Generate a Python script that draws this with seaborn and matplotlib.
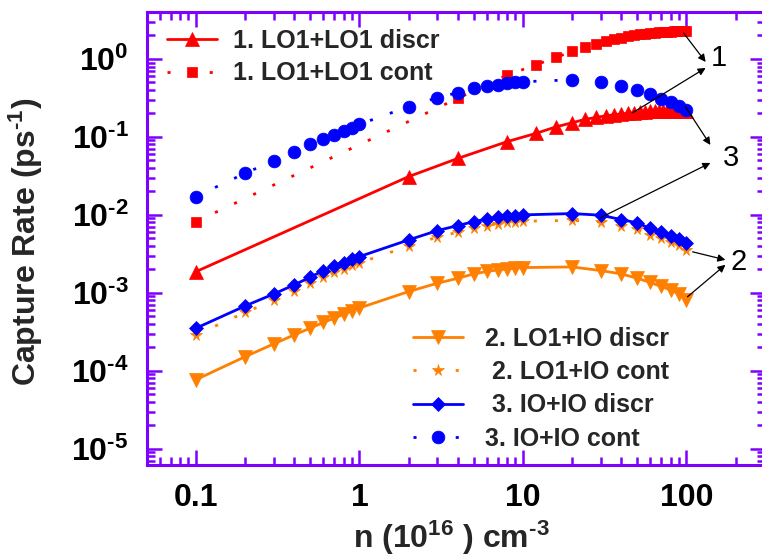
import numpy as np
import pandas as pd
import matplotlib
matplotlib.use("Agg")
import matplotlib.pyplot as plt
import seaborn as sns
from matplotlib.ticker import FixedLocator, LogLocator, FuncFormatter, NullFormatter

# ---- data: electron density n (1e16 cm^-3) and capture rates (ps^-1) ----
n_grid = [0.1, 0.2, 0.3, 0.4, 0.5, 0.6, 0.7, 0.8, 0.9, 1,
          2, 3, 4, 5, 6, 7, 8, 9, 10,
          20, 30, 40, 50, 60, 70, 80, 90, 100]

n_lo1_discr = [0.1, 2, 4, 8, 12, 16, 20, 24, 28, 32, 36, 40, 44, 48, 52,
               56, 60, 64, 68, 72, 76, 80, 84, 88, 92, 96, 100]
n_lo1_cont = [0.1, 4, 8, 12, 16, 20, 24, 28, 32, 36, 40, 44, 48, 52,
              56, 60, 64, 68, 72, 76, 80, 84, 88, 92, 96, 100]

rate_lo1_discr = [1.87e-3, 0.031, 0.053, 0.087, 0.111, 0.135, 0.152, 0.168, 0.178,
                  0.186, 0.192, 0.197, 0.201, 0.205, 0.208, 0.211, 0.213, 0.215,
                  0.216, 0.217, 0.218, 0.218, 0.218, 0.217, 0.216, 0.214, 0.212]
rate_lo1_cont = [8.2e-3, 0.313, 0.62, 0.84, 1.05, 1.25, 1.42, 1.57, 1.70, 1.80,
                 1.88, 1.95, 2.01, 2.06, 2.10, 2.14, 2.17, 2.19, 2.21, 2.23,
                 2.24, 2.25, 2.26, 2.26, 2.26, 2.26]

rate_lo1io_discr = [7.7e-5, 1.52e-4, 2.22e-4, 2.9e-4, 3.52e-4, 4.17e-4, 4.73e-4, 5.3e-4,
                    5.9e-4, 6.4e-4, 1.04e-3, 1.33e-3, 1.54e-3, 1.75e-3, 1.88e-3,
                    1.97e-3, 2.03e-3, 2.07e-3, 2.11e-3, 2.15e-3, 1.93e-3, 1.75e-3,
                    1.54e-3, 1.36e-3, 1.21e-3, 1.09e-3, 9.7e-4, 8.1e-4]
rate_lo1io_cont = [2.9e-4, 5.6e-4, 8.1e-4, 1.06e-3, 1.32e-3, 1.6e-3, 1.84e-3, 2.04e-3,
                   2.25e-3, 2.43e-3, 3.97e-3, 5.2e-3, 6.0e-3, 6.8e-3, 7.3e-3, 7.7e-3,
                   8.0e-3, 8.2e-3, 8.3e-3, 8.5e-3, 8.1e-3, 7.2e-3, 6.5e-3, 5.6e-3,
                   5.0e-3, 4.5e-3, 4.05e-3, 3.55e-3]

rate_io_discr = [3.52e-4, 6.8e-4, 9.7e-4, 1.27e-3, 1.59e-3, 1.93e-3, 2.22e-3, 2.45e-3,
                 2.7e-3, 2.92e-3, 4.78e-3, 6.3e-3, 7.3e-3, 8.2e-3, 8.8e-3, 9.3e-3,
                 9.7e-3, 9.8e-3, 0.0100, 0.0104, 0.0099, 8.7e-3, 7.9e-3, 6.7e-3,
                 6.0e-3, 5.4e-3, 4.9e-3, 4.3e-3]
rate_io_cont = [0.0172, 0.0342, 0.0498, 0.0649, 0.0805, 0.0933, 0.106, 0.119, 0.132,
                0.145, 0.245, 0.319, 0.37, 0.42, 0.45, 0.47, 0.49, 0.50, 0.51,
                0.54, 0.50, 0.45, 0.40, 0.35, 0.307, 0.28, 0.248, 0.22]

labels = ["1. LO1+LO1 discr", "1. LO1+LO1 cont",
          "2. LO1+IO discr", " 2. LO1+IO cont",
          " 3. IO+IO discr", "3. IO+IO cont"]

RED, ORANGE, BLUE = "#FF0000", "#FF8000", "#0000FF"
PURPLE = "#7F00FF"
DOTS = (0, (1.1, 6.5))

sns.set_theme(style="ticks")
plt.rcParams.update({
    "font.family": ["Liberation Sans", "DejaVu Sans"],
    "font.weight": "bold",
    "mathtext.fontset": "custom",
    "mathtext.rm": "Liberation Sans:bold",
    "mathtext.bf": "Liberation Sans:bold",
    "mathtext.it": "Liberation Sans:bold",
})

fig = plt.figure(figsize=(7.62, 5.60), dpi=100)
ax = fig.add_axes([146.7 / 762, 95 / 560, 617.8 / 762, 453 / 560])
ax.set_xscale("log")
ax.set_yscale("log")

series = [
    (n_lo1_discr, rate_lo1_discr, RED, "^", 10.5, "-"),
    (n_lo1_cont, rate_lo1_cont, RED, "s", 7.9, DOTS),
    (n_grid, rate_lo1io_discr, ORANGE, "v", 10, "-"),
    (n_grid, rate_lo1io_cont, ORANGE, "*", 8.5, DOTS),
    (n_grid, rate_io_discr, BLUE, "D", 7.6, "-"),
    (n_grid, rate_io_cont, BLUE, "o", 9.2, DOTS),
]

handles = []
for (xs, ys, col, mk, ms, ls), lab in zip(series, labels):
    df = pd.DataFrame({"n": xs, "rate": ys})
    sns.lineplot(data=df, x="n", y="rate", ax=ax, color=col, marker=mk,
                 markersize=ms, markeredgecolor=col, markeredgewidth=0.5,
                 linestyle=ls, linewidth=2.0, sort=False, estimator=None,
                 legend=False)
    line = ax.lines[-1]
    line.set_label(lab)
    handles.append(line)

ax.set_xlim(0.05, 300)
ax.set_ylim(6.2e-6, 4)

for sp in ax.spines.values():
    sp.set_color(PURPLE)
    sp.set_linewidth(2.2)

ax.xaxis.set_major_locator(FixedLocator([0.1, 1, 10, 100]))
ax.xaxis.set_major_formatter(FuncFormatter(lambda v, p: f"{v:g}"))
ax.xaxis.set_minor_locator(LogLocator(base=10, subs=np.arange(2, 10), numticks=20))
ax.xaxis.set_minor_formatter(NullFormatter())


def decade_label(v, pos):
    e = int(round(np.log10(v)))
    if e < 0:
        return r"$\mathbf{10^{\text{-%d}}}$" % (-e)
    return r"$\mathbf{10^{%d}}$" % e


ax.yaxis.set_major_locator(LogLocator(base=10, numticks=20))
ax.yaxis.set_major_formatter(FuncFormatter(decade_label))
ax.yaxis.set_minor_locator(LogLocator(base=10, subs=np.arange(2, 10), numticks=20))
ax.yaxis.set_minor_formatter(NullFormatter())

ax.tick_params(which="both", direction="in", top=True, right=True,
               color=PURPLE, width=1.8, labelcolor="black")
ax.tick_params(which="major", length=10.5, labelsize=23)
ax.tick_params(which="minor", length=5.5)
ax.tick_params(axis="x", which="major", pad=13)
ax.tick_params(axis="y", which="major", pad=13)

ax.set_xlabel(r"n (10$^{16}$ ) cm$^{\text{-3}}$", fontsize=23, fontweight="bold")
ax.set_ylabel(r"Capture Rate (ps$^{\text{-1}}$)", fontsize=23, fontweight="bold")
ax.xaxis.set_label_coords(0.4926, -0.118)
ax.yaxis.set_label_coords(-0.165, 0.492)

leg1 = ax.legend(handles=handles[:2], loc="upper left",
                 bbox_to_anchor=(0.033, 0.963), frameon=False,
                 prop={"size": 18, "weight": "bold"}, numpoints=1,
                 handlelength=2.0, handletextpad=0.65, labelspacing=0.34,
                 borderpad=0, borderaxespad=0)
ax.add_artist(leg1)
ax.legend(handles=handles[2:], loc="upper left",
          bbox_to_anchor=(0.431, 0.305), frameon=False,
          prop={"size": 18, "weight": "bold"}, numpoints=1,
          handlelength=2.0, handletextpad=0.9, labelspacing=0.37,
          borderpad=0, borderaxespad=0)

# curve-family markers with arrows
arrow_kw = dict(arrowstyle="-|>", color="black", lw=0.9, mutation_scale=11,
                shrinkA=0, shrinkB=0)
arrows = [
    ((96, 2.15), (131, 0.915)),
    ((46.6, 0.203), (131, 0.767)),
    ((98.6, 0.243), (140, 0.0789)),
    ((29.7, 9.16e-3), (140, 0.0464)),
    ((109, 3.36e-3), (173, 2.65e-3)),
    ((101.4, 8.9e-4), (173, 2.29e-3)),
]
for start, end in arrows:
    ax.annotate("", xy=end, xytext=start, xycoords="data", textcoords="data",
                arrowprops=arrow_kw, zorder=10)

for txt, (tx, ty) in [("1", (157, 1.03)), ("3", (186, 0.0538)), ("2", (208, 2.5e-3))]:
    ax.text(tx, ty, txt, fontsize=21, fontweight="normal", color="black",
            ha="center", va="center")

fig.savefig("out.png", dpi=100)
